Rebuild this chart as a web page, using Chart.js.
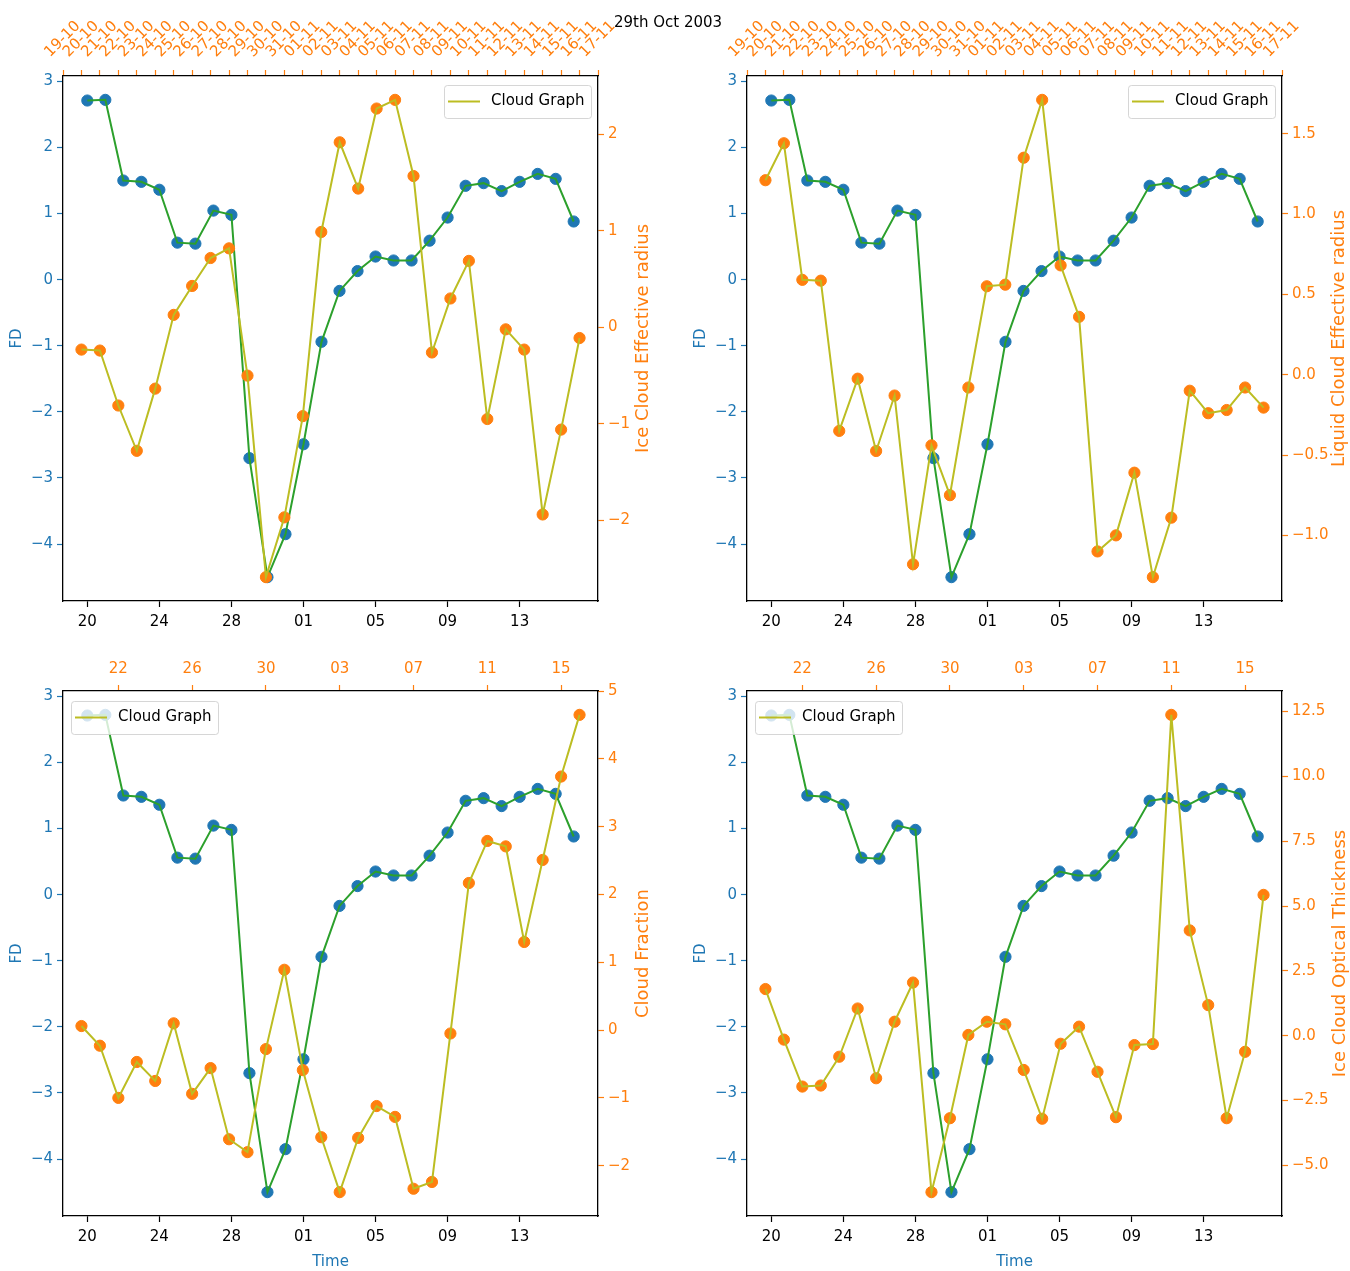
<!DOCTYPE html>
<html>
<head>
<meta charset="utf-8">
<title>29th Oct 2003</title>
<script src="https://cdn.jsdelivr.net/npm/chart.js@4.4.0/dist/chart.umd.min.js"></script>
<style>
  html, body { margin: 0; padding: 0; background: #fff; }
  #pagina { position: relative; width: 1350px; height: 1271px; overflow: hidden; }
  .quadro { position: absolute; }
  .quadro canvas { display: block; }
  #titulo { position: absolute; left: 668px; top: 22px; transform: translate(-50%, -50%);
            font: 15px 'DejaVu Sans', sans-serif; color: #000; white-space: nowrap; z-index: 2; }
</style>
</head>
<body>
<div id="pagina">
  <div id="titulo">29th Oct 2003</div>
  <div class="quadro" style="left:0;top:0;width:675px;height:640px"><canvas id="graficoRaioGelo"></canvas></div>
  <div class="quadro" style="left:675px;top:0;width:675px;height:640px"><canvas id="graficoRaioLiquido"></canvas></div>
  <div class="quadro" style="left:0;top:640px;width:675px;height:631px"><canvas id="graficoFracao"></canvas></div>
  <div class="quadro" style="left:675px;top:640px;width:675px;height:631px"><canvas id="graficoEspessura"></canvas></div>
</div>
<script>
// dias do eixo de cima (graficos de cima) e dias das observacoes
const diasEixo = ['19-10','20-10','21-10','22-10','23-10','24-10','25-10','26-10','27-10','28-10',
                  '29-10','30-10','31-10','01-11','02-11','03-11','04-11','05-11','06-11','07-11',
                  '08-11','09-11','10-11','11-11','12-11','13-11','14-11','15-11','16-11','17-11'];
const diasObs = ['20-10','21-10','22-10','23-10','24-10','25-10','26-10','27-10','28-10','29-10',
                 '30-10','31-10','01-11','02-11','03-11','04-11','05-11','06-11','07-11','08-11',
                 '09-11','10-11','11-11','12-11','13-11','14-11','15-11','16-11'];

const fd = [2.71, 2.72, 1.50, 1.48, 1.36, 0.56, 0.545, 1.045, 0.98, -2.70,
            -4.50, -3.85, -2.49, -0.94, -0.17, 0.13, 0.35, 0.29, 0.29, 0.59,
            0.94, 1.42, 1.46, 1.34, 1.48, 1.60, 1.525, 0.88];
const raioGelo = [-0.23, -0.24, -0.81, -1.28, -0.635, 0.13, 0.43, 0.72, 0.82, -0.50,
                  -2.59, -1.97, -0.92, 0.99, 1.92, 1.44, 2.27, 2.36, 1.57, -0.26,
                  0.30, 0.69, -0.95, -0.02, -0.23, -1.94, -1.06, -0.11];
const raioLiquido = [1.21, 1.44, 0.59, 0.585, -0.35, -0.025, -0.475, -0.13, -1.18, -0.44,
                     -0.75, -0.08, 0.55, 0.56, 1.35, 1.71, 0.68, 0.36, -1.10, -1.00,
                     -0.61, -1.26, -0.89, -0.10, -0.24, -0.22, -0.08, -0.205];
const fracaoNuvem = [0.06, -0.23, -1.00, -0.47, -0.75, 0.10, -0.94, -0.56, -1.61, -1.80,
                     -0.28, 0.89, -0.59, -1.58, -2.39, -1.59, -1.12, -1.28, -2.34, -2.24,
                     -0.05, 2.17, 2.79, 2.71, 1.30, 2.51, 3.74, 4.65];
const espessuraGelo = [1.80, -0.15, -1.96, -1.92, -0.81, 1.05, -1.64, 0.54, 2.05, -6.03,
                       -3.18, 0.03, 0.54, 0.44, -1.32, -3.20, -0.31, 0.35, -1.39, -3.14,
                       -0.36, -0.32, 12.37, 4.06, 1.18, -3.18, -0.62, 5.43];

const ticksFD = [-4, -3, -2, -1, 0, 1, 2, 3];
const ticksRaioGelo = [-2, -1, 0, 1, 2];
const ticksRaioLiquido = [-1.0, -0.5, 0.0, 0.5, 1.0, 1.5];
const ticksFracao = [-2, -1, 0, 1, 2, 3, 4, 5];
const ticksEspessura = [-5.0, -2.5, 0.0, 2.5, 5.0, 7.5, 10.0, 12.5];
const rotulosBaixo = ['20', '24', '28', '01', '05', '09', '13'];
const rotulosTopoBaixo = ['22', '26', '30', '03', '07', '11', '15'];

const azul = '#1f77b4', laranja = '#ff7f0e', verde = '#2ca02c', oliva = '#bcbd22';
const fonte = "'DejaVu Sans', sans-serif";

Chart.defaults.font.family = fonte;
Chart.defaults.font.size = 15;
Chart.defaults.color = '#000';

const posDia = rot => diasEixo.findIndex(d => d.slice(0, 2) === rot);
const xObs = diasObs.map(d => diasEixo.indexOf(d));

const limites = vals => {
  const lo = Math.min(...vals), hi = Math.max(...vals), m = (hi - lo) * 0.05;
  return { min: lo - m, max: hi + m };
};

const menos = v => (v < 0 ? '\u2212' : '');
const fmtInt = v => menos(v) + Math.abs(v);
const fmt1 = v => menos(v) + Math.abs(v).toFixed(1);

const fixarTicks = valores => scale => { scale.ticks = valores.map(v => ({ value: v })); };

const legendaCaixa = {
  id: 'legendaCaixa',
  afterDatasetsDraw(chart, args, opts) {
    const { ctx, chartArea } = chart;
    const w = 147, h = 33;
    const x = opts.lado === 'direita' ? chartArea.right - 7 - w : chartArea.left + 8;
    const y = chartArea.top + (opts.lado === 'direita' ? 9 : 10);
    ctx.save();
    ctx.beginPath();
    ctx.roundRect(x + 0.5, y + 0.5, w, h, 3);
    ctx.fillStyle = 'rgba(255,255,255,0.8)';
    ctx.fill();
    ctx.strokeStyle = 'rgba(204,204,204,0.8)';
    ctx.lineWidth = 1;
    ctx.stroke();
    const cy = y + h / 2;
    ctx.beginPath();
    ctx.moveTo(x + 4, cy);
    ctx.lineTo(x + 36, cy);
    ctx.strokeStyle = oliva;
    ctx.lineWidth = 2;
    ctx.stroke();
    ctx.fillStyle = '#000';
    ctx.font = '15px ' + fonte;
    ctx.textBaseline = 'middle';
    ctx.fillText(opts.texto, x + 47, cy);
    ctx.restore();
  }
};

// titulo do eixo da direita, lido de baixo para cima como no matplotlib
const tituloDireita = {
  id: 'tituloDireita',
  afterDraw(chart, args, opts) {
    const { ctx, chartArea } = chart;
    ctx.save();
    ctx.translate(chartArea.right + opts.distancia, (chartArea.top + chartArea.bottom) / 2);
    ctx.rotate(-Math.PI / 2);
    ctx.font = '18px ' + fonte;
    ctx.fillStyle = laranja;
    ctx.textAlign = 'center';
    ctx.textBaseline = 'middle';
    ctx.fillText(opts.texto, 0, 0);
    ctx.restore();
  }
};

const gerarGrafico = (id, cfg) => {
  const g = cfg.geo;
  const limX = limites(xObs);
  const limFD = limites(fd);
  const limNuvem = limites(cfg.serie);
  const emCima = cfg.topo === 'diario';

  const eixoTopo = emCima ? {
    afterBuildTicks: fixarTicks(diasEixo.map((d, i) => i)),
    ticks: { color: laranja, autoSkip: false, minRotation: 45, maxRotation: 45, padding: 9, labelOffset: -3,
             callback: (v, i) => diasEixo[i] }
  } : {
    afterBuildTicks: fixarTicks(rotulosTopoBaixo.map(posDia)),
    ticks: { color: laranja, autoSkip: false, maxRotation: 0, padding: 7,
             callback: (v, i) => rotulosTopoBaixo[i] }
  };

  const data = {
    datasets: [
      { data: cfg.serie.map((v, i) => ({ x: xObs[i], y: v })), xAxisID: 'x2', yAxisID: 'y2',
        label: 'Cloud Graph', borderColor: oliva, borderWidth: 2, pointRadius: 0, order: 1 },
      { data: cfg.serie.map((v, i) => ({ x: xObs[i], y: v })), xAxisID: 'x2', yAxisID: 'y2',
        showLine: false, pointRadius: 5.6, pointBorderWidth: 1,
        pointBackgroundColor: laranja, pointBorderColor: laranja, order: 2 },
      { data: fd.map((v, i) => ({ x: xObs[i], y: v })), xAxisID: 'x', yAxisID: 'y',
        borderColor: verde, borderWidth: 2, pointRadius: 0, order: 3 },
      { data: fd.map((v, i) => ({ x: xObs[i], y: v })), xAxisID: 'x', yAxisID: 'y',
        showLine: false, pointRadius: 5.6, pointBorderWidth: 1,
        pointBackgroundColor: azul, pointBorderColor: azul, order: 4 }
    ]
  };

  const borda = { color: '#000', width: 1.3 };

  const options = {
    responsive: true,
    maintainAspectRatio: false,
    animation: false,
    events: [],
    layout: { padding: 0 },
    plugins: {
      legend: { display: false },
      tooltip: { enabled: false },
      legendaCaixa: { lado: cfg.legenda, texto: 'Cloud Graph' },
      tituloDireita: { texto: cfg.rotulo, distancia: cfg.distTitulo }
    },
    scales: {
      x: {
        type: 'linear', position: 'bottom', min: limX.min, max: limX.max,
        afterBuildTicks: fixarTicks(rotulosBaixo.map(posDia)),
        afterFit: s => { s.height = g.base; },
        ticks: { color: '#000', autoSkip: false, maxRotation: 0, padding: 6, callback: (v, i) => rotulosBaixo[i] },
        grid: { drawOnChartArea: false, tickLength: 6, tickColor: '#000', tickWidth: 1.2 },
        border: borda,
        title: { display: cfg.tempo, text: 'Time', color: azul, padding: { top: 0, bottom: 0 } }
      },
      x2: Object.assign({
        type: 'linear', position: 'top', min: 0, max: diasEixo.length - 1,
        afterFit: s => { s.height = g.topo; },
        grid: { drawOnChartArea: false, tickLength: 6, tickColor: laranja, tickWidth: 1.2 },
        border: borda
      }, eixoTopo),
      y: {
        type: 'linear', position: 'left', min: limFD.min, max: limFD.max,
        afterBuildTicks: fixarTicks(ticksFD),
        afterFit: s => { s.width = g.esq; },
        ticks: { color: azul, padding: 4, callback: v => fmtInt(v) },
        grid: { drawOnChartArea: false, tickLength: 6, tickColor: azul, tickWidth: 1.2 },
        border: borda,
        title: { display: true, text: 'FD', color: azul, padding: { top: cfg.padFD, bottom: 0 } }
      },
      y2: {
        type: 'linear', position: 'right', min: limNuvem.min, max: limNuvem.max,
        afterBuildTicks: fixarTicks(cfg.ticks),
        afterFit: s => { s.width = g.dir; },
        ticks: { color: laranja, padding: 4, callback: v => cfg.fmt(v) },
        grid: { drawOnChartArea: false, tickLength: 6, tickColor: laranja, tickWidth: 1.2 },
        border: borda
      }
    }
  };

  const ctx = document.getElementById(id).getContext('2d');
  new Chart(ctx, { type: 'line', data: data, options: options, plugins: [legendaCaixa, tituloDireita] });
};

window.onload = () => {
  const esquerdaCima = { esq: 63, dir: 77, topo: 76, base: 39 };
  const direitaCima = { esq: 72, dir: 68, topo: 76, base: 39 };
  const esquerdaBaixo = { esq: 63, dir: 77, topo: 51, base: 55 };
  const direitaBaixo = { esq: 72, dir: 68, topo: 51, base: 55 };

  gerarGrafico('graficoRaioGelo', { serie: raioGelo, ticks: ticksRaioGelo, fmt: fmtInt, rotulo: 'Ice Cloud Effective radius',
    topo: 'diario', legenda: 'direita', tempo: false, geo: esquerdaCima, padFD: 8, distTitulo: 45 });
  gerarGrafico('graficoRaioLiquido', { serie: raioLiquido, ticks: ticksRaioLiquido, fmt: fmt1, rotulo: 'Liquid Cloud Effective radius',
    topo: 'diario', legenda: 'direita', tempo: false, geo: direitaCima, padFD: 17, distTitulo: 57 });
  gerarGrafico('graficoFracao', { serie: fracaoNuvem, ticks: ticksFracao, fmt: fmtInt, rotulo: 'Cloud Fraction',
    topo: 'espacado', legenda: 'esquerda', tempo: true, geo: esquerdaBaixo, padFD: 8, distTitulo: 45 });
  gerarGrafico('graficoEspessura', { serie: espessuraGelo, ticks: ticksEspessura, fmt: fmt1, rotulo: 'Ice Cloud Optical Thickness',
    topo: 'espacado', legenda: 'esquerda', tempo: true, geo: direitaBaixo, padFD: 17, distTitulo: 58 });
};
</script>
</body>
</html>
